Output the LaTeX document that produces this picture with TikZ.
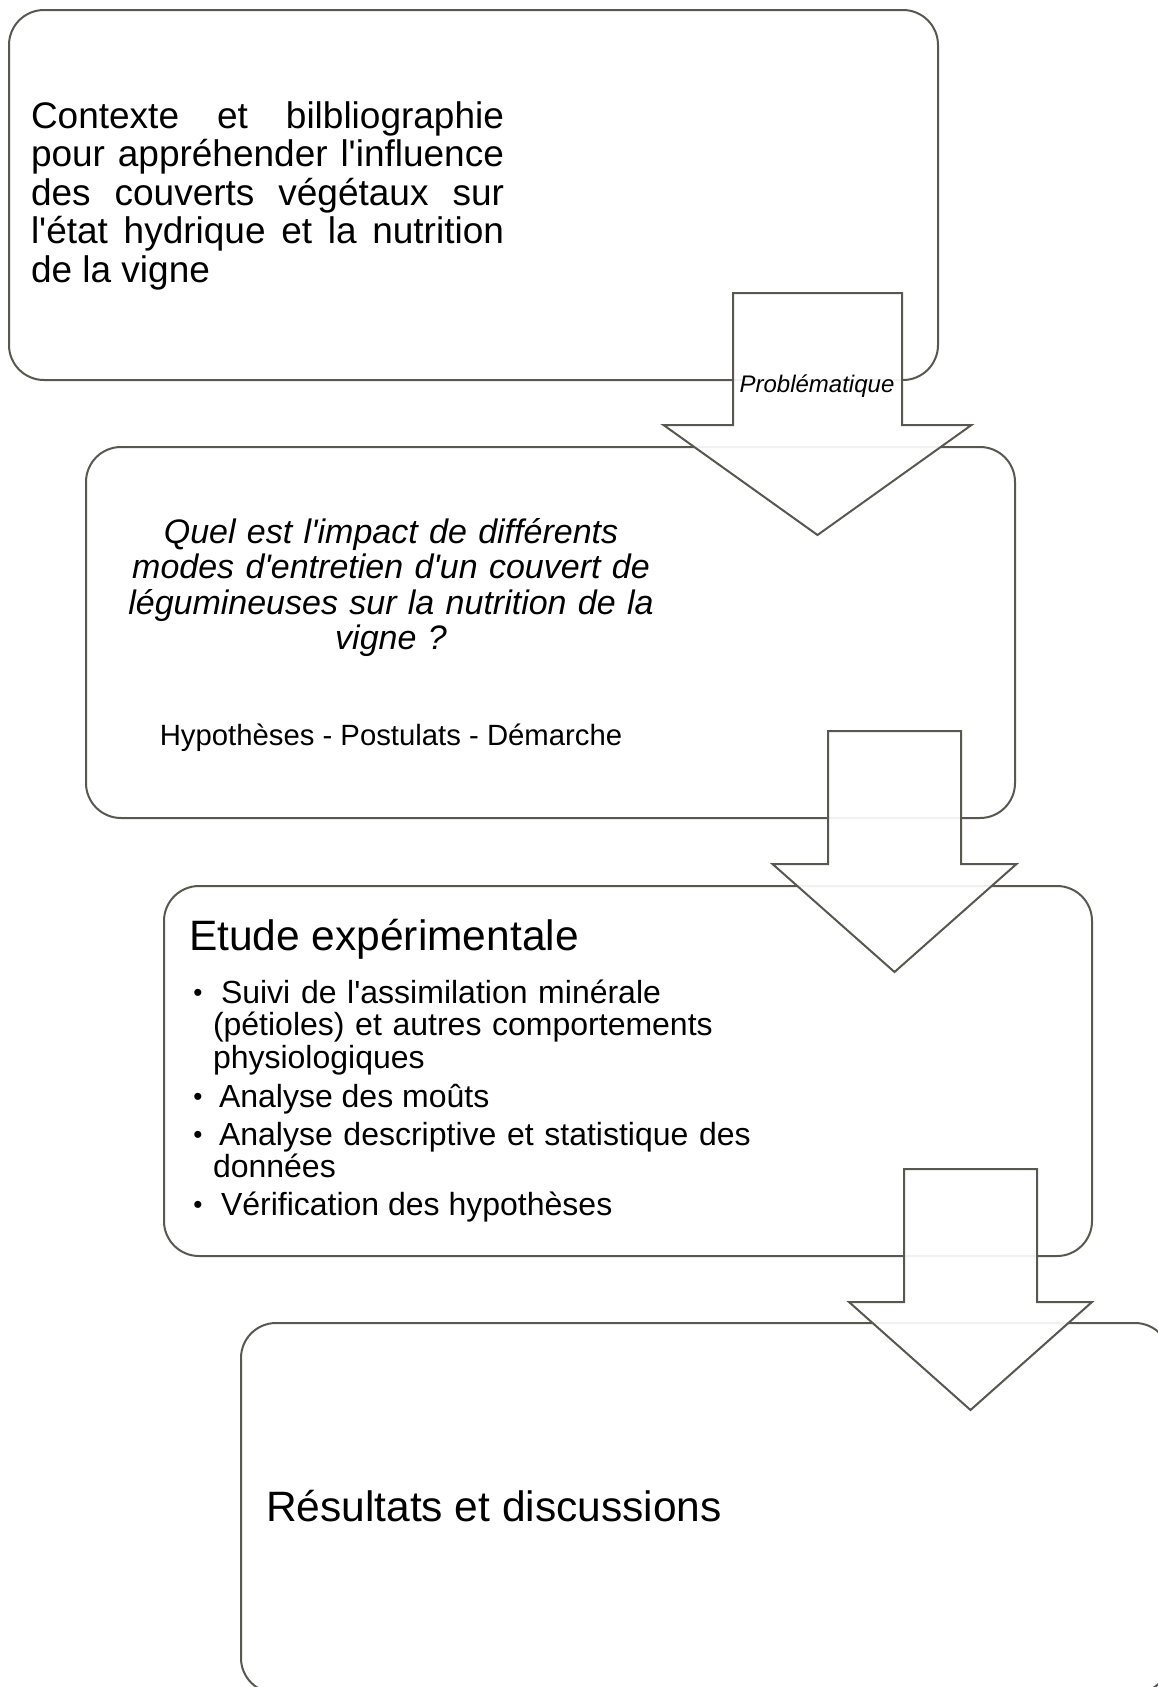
\documentclass[tikz,border=0pt]{standalone}
\usepackage{fontspec}
\setmainfont{Liberation Sans}[Ligatures=TeXOff]
\definecolor{edge}{RGB}{88,88,80}
\tikzset{
  stepbox/.style={draw=edge, line width=2pt, rounded corners=35pt, fill=white, rectangle, inner sep=0pt},
  blockarrow/.style={draw=edge, line width=2pt, fill=white, fill opacity=0.92, line join=miter},
  txt/.style={inner sep=0pt, outer sep=0pt, text=black},
  itemfont/.style={font=\fontsize{32}{32.5}\selectfont},
  bulletfont/.style={font=\fontsize{26}{32.5}\selectfont}
}
\newcommand{\downarrowshape}[6]{% cx, top, shafthalf, heady, headhalf, tip
  \path[blockarrow] ({#1-#3},#2) -- ({#1+#3},#2) -- ({#1+#3},#4) -- ({#1+#5},#4)
    -- (#1,#6) -- ({#1-#5},#4) -- ({#1-#3},#4) -- cycle;}
\begin{document}
\begin{tikzpicture}[x=1pt,y=-1pt]
\useasboundingbox (0,0) rectangle (1158,1687);
\clip (0,0) rectangle (1158,1687);
\fill[white] (0,0) rectangle (1158,1687);

% boxes
\node[stepbox, minimum width=929pt, minimum height=370pt] (b1) at (473.5,195) {};
\node[stepbox, minimum width=929pt, minimum height=371pt] (b2) at (550.5,632.5) {};
\node[stepbox, minimum width=928pt, minimum height=370pt] (b3) at (628,1071) {};
\node[stepbox, minimum width=929pt, minimum height=370pt] (b4) at (705.5,1508) {};

% block arrows
\downarrowshape{817.5}{293}{84.5}{425}{154}{535}
\downarrowshape{894.5}{731}{66.5}{864}{122}{972}
\downarrowshape{970.5}{1169}{66.5}{1302}{121.5}{1410}

% texts
\node[txt, anchor=base west, text width=473pt, align=justify,
      font=\fontsize{37}{38.5}\selectfont] (t1) at (31,128)
  {Contexte et bilbliographie\linebreak
   pour appréhender l'influence\linebreak
   des couverts végétaux sur\linebreak
   l'état hydrique et la nutrition\linebreak
   de la vigne};

\node[txt, anchor=base, font=\fontsize{24}{26}\selectfont\itshape] (prob) at (817,392)
  {Problématique};

\node[txt, anchor=base, text width=640pt, align=center,
      font=\fontsize{34}{35.5}\selectfont\itshape] (q) at (391,543)
  {Quel est l'impact de différents\\
   modes d'entretien d'un couvert de\\
   légumineuses sur la nutrition de la\\
   vigne ?};

\node[txt, anchor=base, font=\fontsize{29.3}{31}\selectfont] (hyp) at (391,745)
  {Hypothèses - Postulats - Démarche};

\node[txt, anchor=base west, font=\fontsize{42.5}{44}\selectfont] (etude) at (189,950)
  {Etude expérimentale};

\node[txt, bulletfont, anchor=base] (bu1) at (198,1001) {•};
\node[txt, itemfont, anchor=base west, text width=560pt, align=left] (i1) at (213,1003)
  {\hspace*{8pt}Suivi de l'assimilation minérale\\
   (pétioles) et autres comportements\\
   physiologiques};
\node[txt, bulletfont, anchor=base] (bu2) at (198,1105) {•};
\node[txt, itemfont, anchor=base west] (i2) at (219,1107)
  {Analyse des moûts};
\node[txt, bulletfont, anchor=base] (bu3) at (198,1143) {•};
\node[txt, itemfont, anchor=base west, text width=560pt, align=left] (i3) at (213,1145)
  {\hspace*{6pt}Analyse descriptive et statistique des\\
   données};
\node[txt, bulletfont, anchor=base] (bu4) at (198,1213) {•};
\node[txt, itemfont, anchor=base west] (i4) at (221,1215)
  {Vérification des hypothèses};

\node[txt, anchor=base west, font=\fontsize{42.5}{44}\selectfont] (res) at (266,1521)
  {Résultats et discussions};
\end{tikzpicture}
\end{document}
